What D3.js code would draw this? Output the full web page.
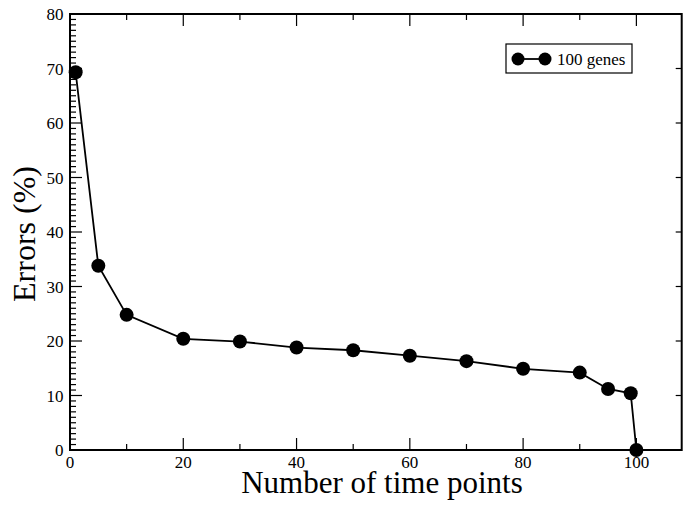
<!DOCTYPE html>
<html>
<head>
<meta charset="utf-8">
<script src="https://cdn.jsdelivr.net/npm/d3@7"></script>
<style>
  body { margin: 0; background: #fff; }
  svg { font-family: "Liberation Serif", "DejaVu Serif", serif; }
</style>
</head>
<body>
<div id="chart"></div>
<script>
var timePoints = [1, 5, 10, 20, 30, 40, 50, 60, 70, 80, 90, 95, 99, 100];
var errors = [69.3, 33.8, 24.8, 20.4, 19.9, 18.8, 18.3, 17.3, 16.3, 14.9, 14.2, 11.2, 10.4, 0];
var xTicks = [0, 20, 40, 60, 80, 100];
var yTicks = [0, 10, 20, 30, 40, 50, 60, 70, 80];
var seriesName = "100 genes";

var width = 686, height = 508;
// note: "top" is a reserved window prop, so use plot* names
var plotLeft = 70, plotRight = 681.7, plotTop = 14, plotBottom = 450;

var svg = d3.select("#chart").append("svg")
    .attr("width", width)
    .attr("height", height);

var x = d3.scaleLinear().domain([0, 108]).range([plotLeft, plotRight]);
var y = d3.scaleLinear().domain([0, 80]).range([plotBottom, plotTop]);

// frame
svg.append("rect")
    .attr("x", plotLeft).attr("y", plotTop)
    .attr("width", plotRight - plotLeft).attr("height", plotBottom - plotTop)
    .attr("fill", "none").attr("stroke", "black").attr("stroke-width", 2);

var g = svg.append("g");

// x ticks (bottom and top, inward)
d3.range(0, 108, 10).forEach(function(v) {
    var major = v % 20 === 0;
    var len = major ? 12 : 6;
    g.append("line").attr("x1", x(v)).attr("x2", x(v))
        .attr("y1", plotBottom).attr("y2", plotBottom - len)
        .attr("stroke", "black").attr("stroke-width", 1.2);
    g.append("line").attr("x1", x(v)).attr("x2", x(v))
        .attr("y1", plotTop).attr("y2", plotTop + len)
        .attr("stroke", "black").attr("stroke-width", 1.2);
});

// y ticks left: major every 10, minor every 1
d3.range(0, 81, 1).forEach(function(v) {
    var major = v % 10 === 0;
    var len = major ? 12 : 6;
    g.append("line").attr("x1", plotLeft).attr("x2", plotLeft + len)
        .attr("y1", y(v)).attr("y2", y(v))
        .attr("stroke", "black").attr("stroke-width", 1.2);
});
// right side: major only
yTicks.forEach(function(v) {
    g.append("line").attr("x1", plotRight).attr("x2", plotRight - 6)
        .attr("y1", y(v)).attr("y2", y(v))
        .attr("stroke", "black").attr("stroke-width", 1.2);
});

// tick labels
xTicks.forEach(function(v) {
    svg.append("text").attr("x", x(v)).attr("y", 468)
        .attr("text-anchor", "middle").attr("font-size", "17px")
        .text(v);
});
yTicks.forEach(function(v) {
    svg.append("text").attr("x", 63.5).attr("y", y(v) + 6)
        .attr("text-anchor", "end").attr("font-size", "17px")
        .text(v);
});

// axis titles
svg.append("text")
    .attr("x", 382).attr("y", 493)
    .attr("text-anchor", "middle").attr("font-size", "31px")
    .text("Number of time points");
svg.append("text")
    .attr("transform", "translate(35,234) rotate(-90)")
    .attr("text-anchor", "middle").attr("font-size", "32px")
    .text("Errors (%)");

// series
var data = timePoints.map(function(t, i) { return { t: t, e: errors[i] }; });
var line = d3.line().x(function(d) { return x(d.t); }).y(function(d) { return y(d.e); });
svg.append("path").datum(data)
    .attr("d", line)
    .attr("fill", "none").attr("stroke", "black").attr("stroke-width", 1.8);
svg.selectAll("circle.pt").data(data).enter().append("circle")
    .attr("class", "pt")
    .attr("cx", function(d) { return x(d.t); })
    .attr("cy", function(d) { return y(d.e); })
    .attr("r", 7)
    .attr("fill", "black");

// legend
var lg = svg.append("g");
lg.append("rect").attr("x", 506).attr("y", 44).attr("width", 126).attr("height", 29)
    .attr("fill", "white").attr("stroke", "black").attr("stroke-width", 1.2);
lg.append("line").attr("x1", 518).attr("x2", 545).attr("y1", 59).attr("y2", 59)
    .attr("stroke", "black").attr("stroke-width", 1.8);
lg.append("circle").attr("cx", 518).attr("cy", 59).attr("r", 6.5).attr("fill", "black");
lg.append("circle").attr("cx", 545).attr("cy", 59).attr("r", 6.5).attr("fill", "black");
lg.append("text").attr("x", 557).attr("y", 65).attr("font-size", "17px").text(seriesName);
</script>
</body>
</html>
